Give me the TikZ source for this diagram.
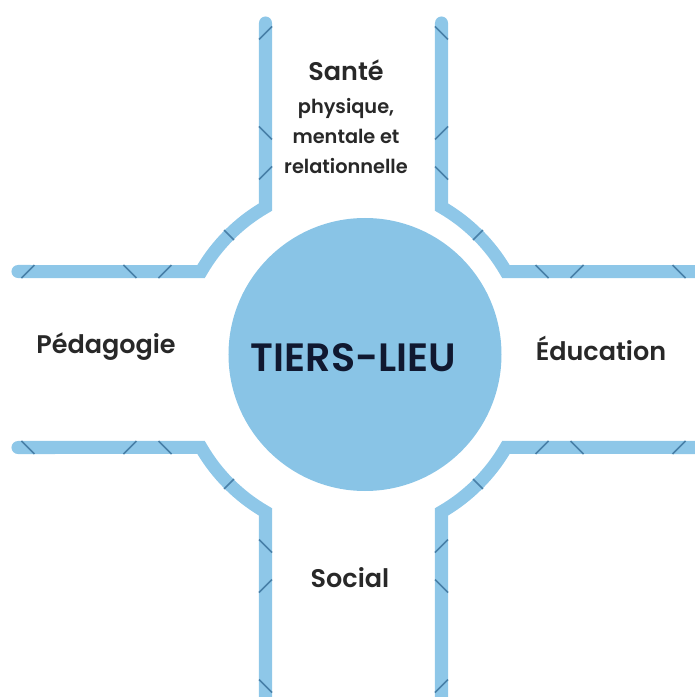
\documentclass[tikz,border=0pt]{standalone}
\usepackage{fontspec}
\setmainfont{Poppins}
\newfontfamily\semifont{Poppins SemiBold}
\usepackage{xcolor}
\usetikzlibrary{positioning}
\definecolor{roadblue}{RGB}{142,199,232}
\definecolor{tickblue}{RGB}{72,128,168}
\definecolor{hubblue}{RGB}{137,196,230}
\definecolor{labelgray}{RGB}{40,40,40}
\definecolor{hubnavy}{RGB}{16,24,48}

\begin{document}
\begin{tikzpicture}[
    road/.style={line width=7.4pt, roadblue, line cap=round},
    roadtick/.style={line width=0.9pt, tickblue},
    theme/.style={font=\semifont\fontsize{14.5}{17}\selectfont, text=labelgray},
    subtheme/.style={font=\semifont\fontsize{11}{16.8}\selectfont, text=labelgray, align=center},
]
    \useasboundingbox (-7.07,-6.75) rectangle (6.81,7.19);

    % Roads (one quadrant, mirrored four times)
    \foreach \sx/\sy/\lx/\ly in {1/1/7.2/6.73, -1/1/6.71/6.73, -1/-1/6.71/7.2, 1/-1/7.2/7.2} {
      \begin{scope}[xscale=\sx, yscale=\sy]
        \draw[road] (1.76,\ly) -- (1.76,3.048) arc[start angle=60, end angle=30, radius=3.52] -- (\lx,1.76);
        % small marks across the road
        \draw[roadtick] (1.63,6.66) -- (1.89,6.40);
        \draw[roadtick] (1.63,4.40) -- (1.89,4.66);
        \draw[roadtick] (1.63,3.86) -- (1.89,3.60);
        \draw[roadtick] (45:3.38) -- (45:3.66);
        \draw[roadtick] (3.64,1.89) -- (3.90,1.63);
        \draw[roadtick] (4.34,1.63) -- (4.60,1.89);
        \draw[roadtick] (6.38,1.89) -- (6.64,1.63);
      \end{scope}
    }

    % Central place
    \node[circle, fill=hubblue, minimum size=5.46cm, inner sep=0pt] (hub) at (0.23,0.1) {};
    \node[font=\semifont\fontsize{22.5}{26}\selectfont, text=hubnavy] (tiers) at (0,0.03) {TIERS-LIEU};

    % Themes
    \node[theme] (sante) at (-0.15,5.79) {Santé};
    \node[subtheme] (santesub) at (-0.15,4.47) {physique,\\mentale et\\relationnelle};
    \node[theme] (pedagogie) at (-4.95,0.25) {Pédagogie};
    \node[theme] (education) at (4.95,0.23) {Éducation};
    \node[theme] (social) at (-0.07,-4.37) {Social};
\end{tikzpicture}
\end{document}
